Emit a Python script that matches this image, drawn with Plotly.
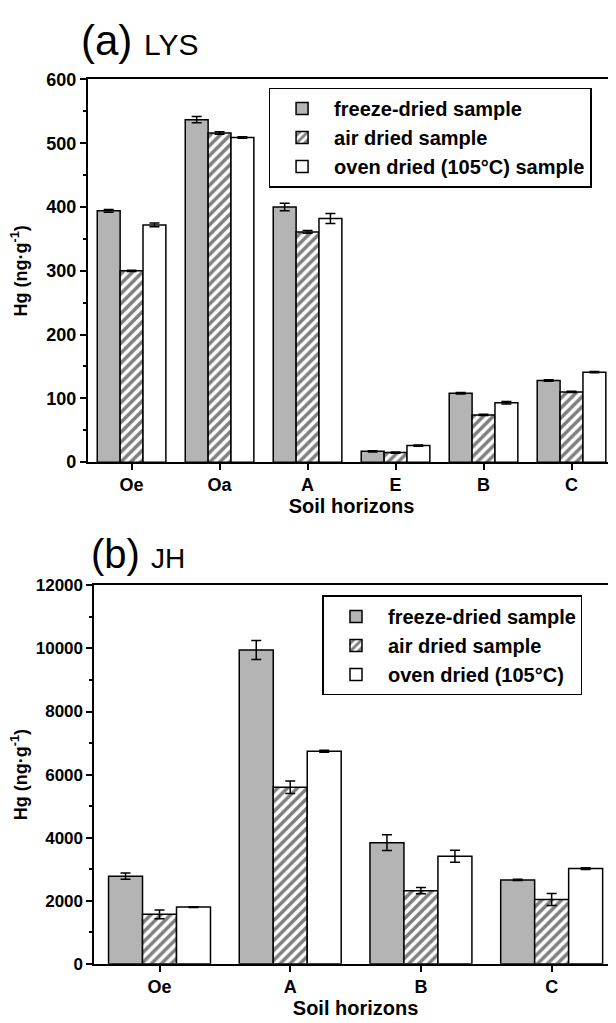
import plotly.graph_objects as go

# ---------------- data: panel (a) LYS ----------------
horizons_a = ["Oe", "Oa", "A", "E", "B", "C"]
freeze_a = [394, 537, 400, 17, 108, 128]
freeze_a_err = [2, 5, 6, 1, 1, 1]
air_a = [300, 516, 361, 15, 74, 110]
air_a_err = [1, 2, 2, 1, 1, 1]
oven_a = [372, 509, 382, 26, 93, 141]
oven_a_err = [3, 1, 8, 1, 2, 1]

# ---------------- data: panel (b) JH ----------------
horizons_b = ["Oe", "A", "B", "C"]
freeze_b = [2780, 9950, 3840, 2660]
freeze_b_err = [100, 300, 250, 20]
air_b = [1570, 5600, 2320, 2040]
air_b_err = [140, 200, 100, 190]
oven_b = [1800, 6740, 3410, 3020]
oven_b_err = [10, 30, 190, 30]

names_a = ["freeze-dried sample", "air dried sample", "oven dried (105°C) sample"]
names_b = ["freeze-dried sample", "air dried sample", "oven dried (105°C)"]

FONT = "Liberation Sans, Arial, sans-serif"
GRAY = "#b4b4b4"
W, H = 616, 1023
OFF = 8  # page body margin offset

def px_x(p):
    return (p - OFF) / W

def px_y(p):
    return 1 - (p - OFF) / H

def bar(x, y, err, name, kind, xa, ya, leg):
    if kind == "freeze":
        marker = dict(color=GRAY, line=dict(color="black", width=1.5))
    elif kind == "air":
        marker = dict(color="white",
                      pattern=dict(shape="/", fgcolor="black", bgcolor="white",
                                   size=7, solidity=0.5),
                      line=dict(color="black", width=1.5))
    else:
        marker = dict(color="white", line=dict(color="black", width=1.5))
    return go.Bar(x=x, y=y, name=name, marker=marker, xaxis=xa, yaxis=ya,
                  legend=leg,
                  error_y=dict(type="data", array=err, color="black",
                               thickness=1.5, width=5))

fig = go.Figure()
fig.add_trace(bar(horizons_a, freeze_a, freeze_a_err, names_a[0], "freeze", "x", "y", "legend"))
fig.add_trace(bar(horizons_a, air_a, air_a_err, names_a[1], "air", "x", "y", "legend"))
fig.add_trace(bar(horizons_a, oven_a, oven_a_err, names_a[2], "oven", "x", "y", "legend"))
fig.add_trace(bar(horizons_b, freeze_b, freeze_b_err, names_b[0], "freeze", "x2", "y2", "legend2"))
fig.add_trace(bar(horizons_b, air_b, air_b_err, names_b[1], "air", "x2", "y2", "legend2"))
fig.add_trace(bar(horizons_b, oven_b, oven_b_err, names_b[2], "oven", "x2", "y2", "legend2"))

def xax(domain, rng, anchor):
    return dict(domain=domain, range=rng, type="category", anchor=anchor,
                showline=True, linecolor="black", linewidth=1.5, mirror=True,
                ticks="outside", ticklen=6, tickwidth=1.5, tickcolor="black",
                tickfont=dict(family=FONT, size=18, color="black", weight="bold"),
                title=dict(text="Soil horizons", standoff=3,
                           font=dict(family=FONT, size=20, color="black", weight="bold")),
                showgrid=False, zeroline=False)

def yax(domain, rng, dtick, minor, anchor, tsize):
    return dict(domain=domain, range=rng, dtick=dtick, anchor=anchor,
                tickformat="d",
                showline=True, linecolor="black", linewidth=1.5, mirror=True,
                ticks="outside", ticklen=6, tickwidth=1.5, tickcolor="black",
                minor=dict(dtick=minor, ticks="outside", ticklen=3, tickwidth=1.5,
                           tickcolor="black", showgrid=False),
                tickfont=dict(family=FONT, size=tsize, color="black", weight="bold"),
                title=dict(text="Hg (ng·g<sup>-1</sup>)",
                           font=dict(family=FONT, size=18, color="black", weight="bold")),
                showgrid=False, zeroline=False)

legend_style = dict(xanchor="left", yanchor="top", bgcolor="white",
                    bordercolor="black", borderwidth=1.5, itemwidth=54,
                    tracegroupgap=0,
                    font=dict(family=FONT, size=20, color="black", weight="bold"))

fig.update_layout(
    width=W, height=H,
    margin=dict(l=0, r=0, t=0, b=0),
    paper_bgcolor="white", plot_bgcolor="white",
    barmode="group", bargap=0.22, bargroupgap=0,
    showlegend=True,
    xaxis=xax([px_x(86.7), px_x(615.5)], [-0.5, 5.5], "y"),
    yaxis=yax([px_y(461), px_y(70.7)], [0, 600], 100, 50, "x", 18),
    xaxis2=xax([px_x(93.3), px_x(617)], [-0.5, 3.5], "y2"),
    yaxis2=yax([px_y(972.7), px_y(586.7)], [0, 12000], 2000, 1000, "x2", 17),
    legend=dict(x=px_x(268), y=px_y(79), **legend_style),
    legend2=dict(x=px_x(322), y=px_y(597), **legend_style),
    annotations=[
        dict(text="(a) <span style='font-size:30px'>LYS</span>",
             xref="paper", yref="paper", x=px_x(78), y=px_y(57),
             xanchor="left", yanchor="bottom", showarrow=False,
             font=dict(family=FONT, size=42, color="black")),
        dict(text="(b) <span style='font-size:28px'>JH</span>",
             xref="paper", yref="paper", x=px_x(88), y=px_y(579),
             xanchor="left", yanchor="bottom", showarrow=False,
             font=dict(family=FONT, size=40, color="black")),
    ],
)

fig.write_html("out.html")
